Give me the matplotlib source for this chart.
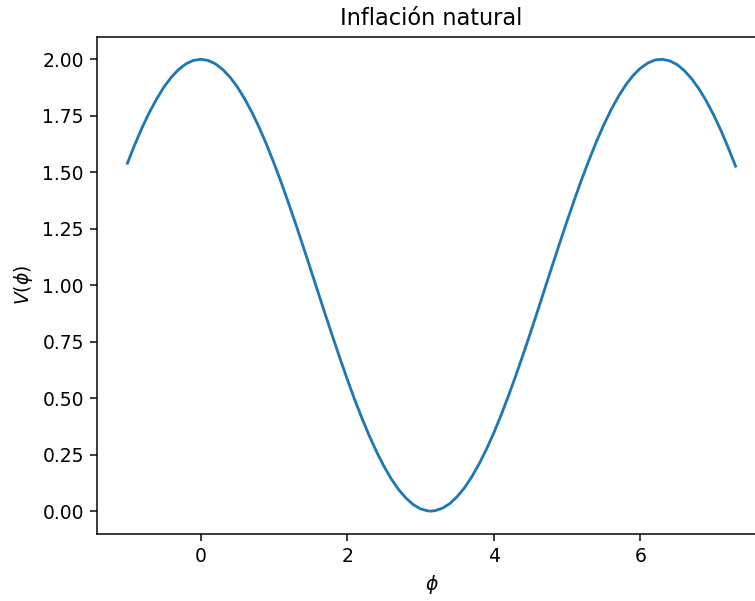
import matplotlib
matplotlib.use("Agg")
import matplotlib.pyplot as plt

# potential sampled along the field, V(phi)
phi = [-1.0, -0.9, -0.8, -0.7, -0.6, -0.5, -0.4, -0.3, -0.2, -0.1,
       0.0, 0.1, 0.2, 0.3, 0.4, 0.5, 0.6, 0.7, 0.8, 0.9,
       1.0, 1.1, 1.2, 1.3, 1.4, 1.5, 1.6, 1.7, 1.8, 1.9,
       2.0, 2.1, 2.2, 2.3, 2.4, 2.5, 2.6, 2.7, 2.8, 2.9,
       3.0, 3.1, 3.14, 3.2, 3.3, 3.4, 3.5, 3.6, 3.7, 3.8, 3.9,
       4.0, 4.1, 4.2, 4.3, 4.4, 4.5, 4.6, 4.7, 4.8, 4.9,
       5.0, 5.1, 5.2, 5.3, 5.4, 5.5, 5.6, 5.7, 5.8, 5.9,
       6.0, 6.1, 6.2, 6.3, 6.4, 6.5, 6.6, 6.7, 6.8, 6.9,
       7.0, 7.1, 7.2, 7.3]
V = [1.540, 1.622, 1.697, 1.765, 1.825, 1.878, 1.921, 1.955, 1.980, 1.995,
     2.000, 1.995, 1.980, 1.955, 1.921, 1.878, 1.825, 1.765, 1.697, 1.622,
     1.540, 1.454, 1.362, 1.268, 1.170, 1.071, 0.971, 0.871, 0.773, 0.677,
     0.584, 0.495, 0.412, 0.334, 0.263, 0.199, 0.143, 0.096, 0.058, 0.029,
     0.010, 0.001, 0.000, 0.002, 0.013, 0.033, 0.064, 0.103, 0.152, 0.209, 0.274,
     0.346, 0.425, 0.510, 0.599, 0.693, 0.789, 0.888, 0.988, 1.088, 1.187,
     1.284, 1.378, 1.469, 1.554, 1.635, 1.709, 1.776, 1.835, 1.886, 1.928,
     1.960, 1.983, 1.997, 2.000, 1.993, 1.977, 1.950, 1.914, 1.869, 1.816,
     1.754, 1.685, 1.608, 1.527]

dpi = 135
fig = plt.figure(figsize=(755 / dpi, 601 / dpi), dpi=dpi)
ax = fig.add_axes([97 / 755, 67.3 / 601, 669 / 755, 497 / 601])

ax.plot(phi, V)
ax.set_title("Inflación natural")
ax.set_xlabel(r"$\phi$")
ax.set_ylabel(r"$V(\phi)$")

fig.savefig("out.png", dpi=dpi)
